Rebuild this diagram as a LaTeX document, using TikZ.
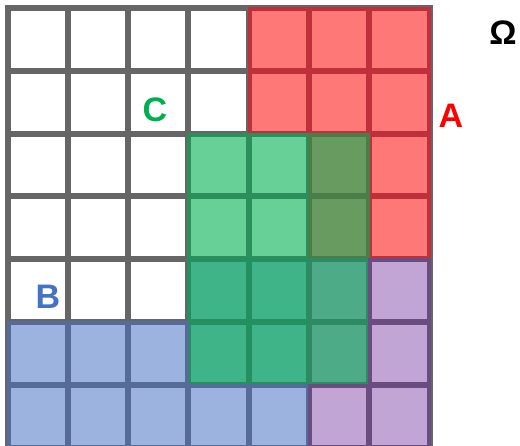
\documentclass[tikz,border=0pt]{standalone}
\usepackage{fontspec}
\setmainfont{Liberation Sans}
\usepackage{tikz}
\definecolor{gridgray}{HTML}{666666}
\definecolor{redfill}{HTML}{FF7878}
\definecolor{redline}{HTML}{C0303A}
\definecolor{greenfill}{HTML}{67D096}
\definecolor{greenline}{HTML}{2A8F5A}
\definecolor{olivefill}{HTML}{689B60}
\definecolor{oliveline}{HTML}{4B7D48}
\definecolor{tealfill}{HTML}{3EB488}
\definecolor{tealline}{HTML}{24905F}
\definecolor{mixfill}{HTML}{4DAC87}
\definecolor{mixline}{HTML}{2E8A62}
\definecolor{bluefill}{HTML}{9BB3DE}
\definecolor{blueline}{HTML}{566B98}
\definecolor{purplefill}{HTML}{C1A5D4}
\definecolor{purpleline}{HTML}{6B4C80}
\definecolor{labgreen}{HTML}{00B050}
\definecolor{labblue}{HTML}{4472C4}
\newcommand{\cellw}{60.3}
\newcommand{\cellh}{62.8}
\newcommand{\gridcell}[3]{\path[#1] ({7.5+\cellw*#2+1},{8+\cellh*#3+1}) rectangle ({7.5+\cellw*(#2+1)-1},{8+\cellh*(#3+1)-1});}
\tikzset{
  plain/.style={fill=white,draw=gridgray,line width=3pt},
  setA/.style={fill=redfill,draw=redline,line width=2pt},
  setC/.style={fill=greenfill,draw=greenline,line width=2pt},
  setAC/.style={fill=olivefill,draw=oliveline,line width=2pt},
  setBC/.style={fill=tealfill,draw=tealline,line width=2pt},
  setABC/.style={fill=mixfill,draw=mixline,line width=2pt},
  setB/.style={fill=bluefill,draw=blueline,line width=2pt},
  setAB/.style={fill=purplefill,draw=purpleline,line width=2pt},
  setlabel/.style={inner sep=0pt,font=\fontsize{17}{20}\selectfont\bfseries}
}

\begin{document}
\begin{tikzpicture}[x=0.5pt,y=-0.5pt]
\useasboundingbox (0,0) rectangle (520,445);
\fill[white] (0,0) rectangle (520,445);
\foreach \c in {0,...,6}
  \foreach \r in {0,...,6}
    {\path[plain] ({7.5+\cellw*\c},{8+\cellh*\r}) rectangle ++(\cellw,\cellh);}
\foreach \c/\r in {4/0,5/0,6/0,4/1,5/1,6/1,6/2,6/3}
  {\gridcell{setA}{\c}{\r}}
\foreach \c/\r in {3/2,4/2,3/3,4/3}
  {\gridcell{setC}{\c}{\r}}
\foreach \c/\r in {5/2,5/3}
  {\gridcell{setAC}{\c}{\r}}
\foreach \c/\r in {3/4,4/4,3/5,4/5}
  {\gridcell{setBC}{\c}{\r}}
\foreach \c/\r in {5/4,5/5}
  {\gridcell{setABC}{\c}{\r}}
\foreach \c/\r in {0/5,1/5,2/5,0/6,1/6,2/6,3/6,4/6}
  {\gridcell{setB}{\c}{\r}}
\foreach \c/\r in {6/4,6/5,5/6,6/6}
  {\gridcell{setAB}{\c}{\r}}
\node[setlabel] (omega) at (503,33) {Ω};
\node[setlabel,text=red] (labA) at (451,116) {A};
\node[setlabel,text=labgreen] (labC) at (155,110) {C};
\node[setlabel,text=labblue] (labB) at (48,297) {B};
\end{tikzpicture}
\end{document}
